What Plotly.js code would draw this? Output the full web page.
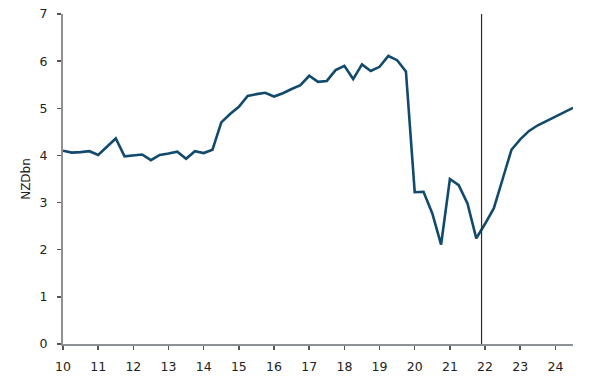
<!DOCTYPE html>
<html>
<head>
<meta charset="utf-8">
<script src="https://cdn.plot.ly/plotly-3.0.1.min.js"></script>
<style>html,body{margin:0;padding:0;background:#fff;}#chart{width:592px;height:390px;}</style>
</head>
<body>
<div id="chart"></div>
<script>
const xYears = [10.0,10.25,10.5,10.75,11.0,11.25,11.5,11.75,12.0,12.25,12.5,12.75,13.0,13.25,13.5,13.75,14.0,14.25,14.5,14.75,15.0,15.25,15.5,15.75,16.0,16.25,16.5,16.75,17.0,17.25,17.5,17.75,18.0,18.25,18.5,18.75,19.0,19.25,19.5,19.75,20.0,20.25,20.5,20.75,21.0,21.25,21.5,21.75,22.0,22.25,22.5,22.75,23.0,23.25,23.5,23.75,24.0,24.25,24.5];
const nzdBn = [4.10,4.06,4.07,4.09,4.01,4.18,4.36,3.98,4.00,4.02,3.90,4.01,4.04,4.08,3.93,4.09,4.05,4.12,4.70,4.88,5.03,5.26,5.30,5.33,5.25,5.32,5.41,5.49,5.69,5.56,5.58,5.81,5.90,5.62,5.93,5.79,5.88,6.11,6.02,5.78,3.22,3.23,2.77,2.11,3.50,3.37,2.98,2.24,2.55,2.88,3.50,4.12,4.34,4.52,4.64,4.73,4.82,4.91,5.01];
const xTickVals = [10,11,12,13,14,15,16,17,18,19,20,21,22,23,24];
const xTickText = ['10','11','12','13','14','15','16','17','18','19','20','21','22','23','24'];
const yTickVals = [0,1,2,3,4,5,6,7];
const forecastStart = 21.9;
const yMax = 7;

const trace = {
  x: xYears, y: nzdBn, type: 'scatter', mode: 'lines',
  line: {color: '#114a6c', width: 2.6}, hoverinfo: 'skip'
};
const layout = {
  width: 592, height: 390,
  margin: {l: 63, r: 19, t: 14, b: 46},
  paper_bgcolor: '#fff', plot_bgcolor: '#fff',
  font: {family: 'DejaVu Sans, Verdana, sans-serif', size: 12.5, color: '#222'},
  showlegend: false,
  xaxis: {
    range: [10, 24.5], tickvals: xTickVals, ticktext: xTickText,
    showgrid: false, zeroline: false, showline: true, linecolor: '#8c9194', linewidth: 2,
    ticks: 'outside', ticklen: 4, tickwidth: 1.5, tickcolor: '#555',
    ticklabelstandoff: 6,
    tickfont: {size: 12.5, color: '#222'}
  },
  yaxis: {
    range: [0, yMax], tickvals: yTickVals,
    showgrid: false, zeroline: false, showline: true, linecolor: '#8c9194', linewidth: 2,
    ticks: 'outside', ticklen: 4, tickwidth: 1.5, tickcolor: '#555',
    ticklabelstandoff: 7,
    tickfont: {size: 12.5, color: '#222'},
    title: {text: 'NZDbn', font: {size: 12, color: '#222'}, standoff: 6}
  },
  shapes: [{
    type: 'line', xref: 'x', yref: 'y', x0: forecastStart, x1: forecastStart, y0: 0, y1: yMax,
    line: {color: '#2b2b2b', width: 1.2}
  }]
};
Plotly.newPlot('chart', [trace], layout, {staticPlot: true, displayModeBar: false});
</script>
</body>
</html>
